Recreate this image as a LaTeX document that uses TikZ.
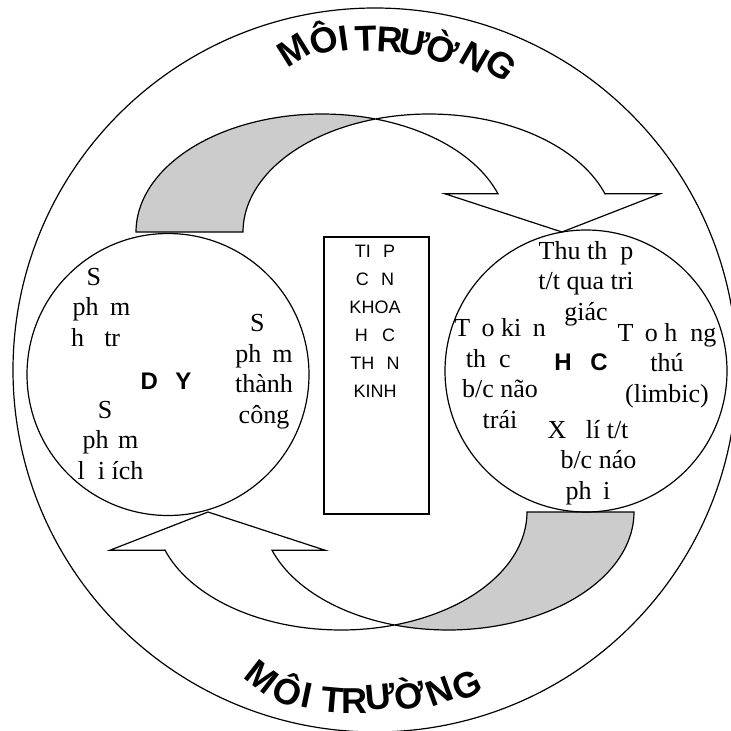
\documentclass[tikz,border=0pt]{standalone}
\usepackage{fontspec}
\setmainfont{Liberation Serif}
\setsansfont{Liberation Sans}

% curved band: two equal half ellipses shifted by the band width
\newcommand{\bentarrow}{%
  \fill[black!20] plot[domain=180:73.29] ({322+186*cos(\x)},{232-118*sin(\x)})
    -- plot[domain=106.71:180] ({429+186*cos(\x)},{232-118*sin(\x)}) -- cycle;
  \draw plot[domain=180:18.88] ({322+186*cos(\x)},{232-118*sin(\x)})
    -- (445,193.8) -- (562,232) -- (660,193.8) -- (605,193.8)
    -- plot[domain=18.88:180] ({429+186*cos(\x)},{232-118*sin(\x)}) -- cycle;}
% blank room left by a missing glyph
\newcommand{\gap}[1]{\makebox[#1]{}}

\begin{document}
\begin{tikzpicture}[x=1pt,y=-1pt,line width=1.2pt,samples=80,
  ring/.style={circle,draw,inner sep=0pt,minimum size=#1},
  letter/.style={font=\fontsize{36}{36}\selectfont\sffamily\bfseries,inner sep=0pt},
  note/.style={font=\fontsize{26}{30.5}\selectfont,align=center,inner sep=0pt,anchor=base},
  tag/.style={font=\fontsize{24}{24}\selectfont\sffamily\bfseries,inner sep=0pt,anchor=base},
  boxtext/.style={font=\fontsize{18}{28}\selectfont\sffamily,align=center,inner sep=0pt,anchor=base}]
\useasboundingbox (0,0) rectangle (731,731);

\node[ring=724pt] (env) at (375,370) {};

\bentarrow
\begin{scope}[rotate around={180:(385,372)}]
  \bentarrow
\end{scope}

\node[ring=282pt] (teach) at (168,374.5) {};
\node[ring=282pt] (learn) at (586,371) {};
\node[draw,inner sep=0pt,minimum width=105pt,minimum height=277pt] (science) at (376.5,375.5) {};

% arched words
\foreach \ch/\px/\py/\ang [count=\i] in {M/293.3/50/32, Ô/323/37/18, I/343.3/38.3/8,
    T/365.7/38.7/2, R/390/40/-3, Ư/414.3/42.7/-10, Ờ/443.3/47.3/-20, N/474.7/57.3/-30, G/500.7/65.3/-38}
  \node[letter,rotate=\ang] (top\i) at (\px,\py) {\ch};
\foreach \ch/\px/\py/\ang [count=\i] in {M/262.3/677/-38, Ô/288.7/689.3/-25, I/306.7/695.3/-12,
    T/332.3/700/-5, R/354.3/700.7/0, Ư/380.3/697.3/5, Ờ/409.3/693/12, N/439.3/691.3/20, G/467/685.3/25}
  \node[letter,rotate=\ang] (bot\i) at (\px,\py) {\ch};

% left circle (base = last line)
\node[note] (help) at (101.4,346) {S\gap{.58em}\\ph\gap{.44em}m\\h\gap{.77em}tr\gap{.44em}};
\node[note] (gain) at (110.5,479) {S\gap{.42em}\\ph\gap{.36em}m\\l\gap{.5em}i ích};
\node[note] (done) at (264,423) {S\gap{.52em}\\ph\gap{.42em}m\\thành\\công};
\node[tag] (teachtag) at (166,389) {D\gap{.72em}Y};

% box
\node[boxtext] (sciencetext) at (375,397) {TI\gap{.67em}P\\C\gap{.67em}N\\KHOA\\H\gap{.78em}C\\TH\gap{.67em}N\\KINH};

% right circle
\node[note] (sense) at (586,320) {Thu th\gap{.5em}p\\t/t qua tri\\giác};
\node[note] (left) at (500,428) {T\gap{.44em}o ki\gap{.44em}n\\th\gap{.5em}c\gap{.9em}\\b/c não\\trái};
\node[note] (limbic) at (667,402) {T\gap{.44em}o h\gap{.5em}ng\\thú\\(limbic)};
\node[tag] (learntag) at (581,370) {H\gap{.78em}C};
\node[note] (right) at (588,499) {X\gap{.5em} lí t/t\\\gap{.8em}b/c náo\\ph\gap{.44em}i};
\end{tikzpicture}
\end{document}
